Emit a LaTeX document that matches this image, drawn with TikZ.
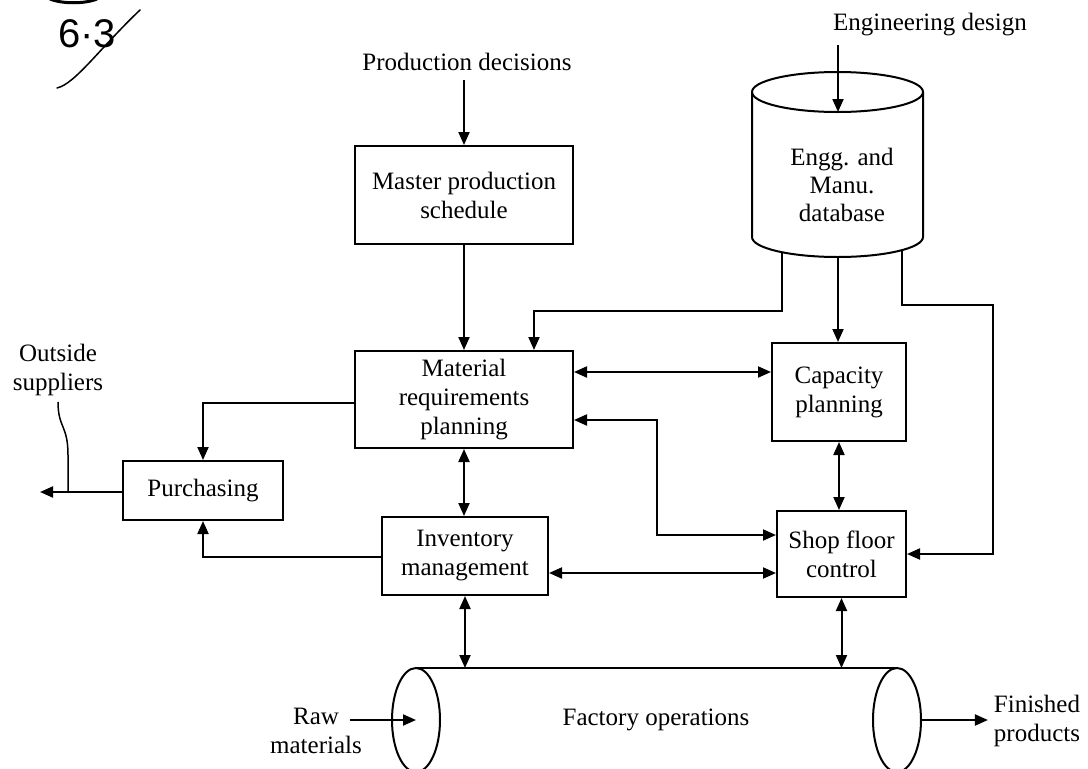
\documentclass[tikz,border=0pt]{standalone}
\usepackage{fontspec}
\setmainfont{Liberation Serif}
\newfontfamily\handfont{Liberation Sans}
\usetikzlibrary{arrows.meta,calc}
\begin{document}
\begin{tikzpicture}[x=1pt,y=-1pt,
  line width=2pt,
  txt/.style={font=\fontsize{25}{29}\selectfont, align=center, inner sep=0pt},
  blk/.style={txt, draw, line width=2pt},
  arr/.style={-{Triangle[length=13pt,width=11pt]}},
  darr/.style={{Triangle[length=13pt,width=11pt]}-{Triangle[length=13pt,width=11pt]}},
]
\useasboundingbox (0,0) rectangle (1088,769);
\clip (0,0) rectangle (1088,769);

% handwritten figure number
\draw[line width=3pt] (50,-1) .. controls (62,4) and (85,4) .. (97,-1);
\node[font=\handfont\fontsize{40}{40}\selectfont, inner sep=0pt] (hw) at (87,34) {6·3};
\draw[line width=1.5pt, line cap=round] (57,88) .. controls (75,84) and (100,48) .. (140,10);

% blocks
\node[blk, minimum width=218pt, minimum height=98pt] (mps) at (464,195) {Master production\\schedule};
\node[blk, minimum width=218pt, minimum height=97pt] (mrp) at (464,399.5) {Material\\requirements\\planning};
\node[blk, minimum width=160pt, minimum height=59pt] (pur) at (203,490.5) {Purchasing};
\node[blk, minimum width=166pt, minimum height=78pt] (inv) at (465,556) {Inventory\\management};
\node[blk, minimum width=134pt, minimum height=98pt] (cap) at (839,392) {Capacity\\planning};
\node[blk, minimum width=129pt, minimum height=86pt] (sfc) at (841.5,554) {Shop floor\\control};

% free labels
\node[txt] (pd) at (467,62) {Production decisions};
\node[txt] (ed) at (930,25) {Engineering design};
\node[txt] (os) at (58,370) {Outside\\suppliers};
\node[txt] (raw) at (316,731) {Raw\\materials};
\node[txt] (fin) at (1037,721) {Finished\\products};

% engineering and manufacturing database (cylinder)
\draw (752,92) -- (752,237) arc[start angle=180, end angle=0, x radius=85.5, y radius=20] -- (923,92);
\draw (837.5,92) ellipse [x radius=85.5, y radius=20];
\node[txt, font=\fontsize{25}{28}\selectfont] (dbt) at (842,185) {Engg. and\\Manu.\\database};
\coordinate (dbin) at (838,112);
\coordinate (dbl) at (782,252.2);
\coordinate (dbm) at (838,257);
\coordinate (dbr) at (902,250.1);

% factory operations (horizontal cylinder)
\draw (416,720) ellipse [x radius=24, y radius=52];
\draw (897,720) ellipse [x radius=24, y radius=52];
\draw (416,668) -- (897,668);
\draw (416,772) -- (897,772);
\node[txt] (fac) at (656,720) {Factory operations};
\coordinate (ftop) at (656,668);
\coordinate (fl) at (416,720);
\coordinate (fr) at (921,720);
\coordinate (rawout) at (350,720);
\coordinate (osarr) at (40,492);
\coordinate (osj) at (68,492);

% connectors
\draw[arr, shorten <=8pt] (pd.south -| mps.north) -- (mps.north);
\draw[arr, shorten <=8pt] (ed.south -| dbin) -- (dbin);
\draw[arr] (mps.south) -- (mrp.north);
\draw[arr] (dbl) -- ++(0,59) -| ([xshift=70pt]mrp.north);
\draw[arr] (dbm) -- (dbm |- cap.north);
\draw[arr] (dbr) -- ++(0,55) -| ([xshift=86pt]sfc.east) -- (sfc.east);
\draw[darr] (mrp.east |- 0,372) -- (cap.west |- 0,372);
\draw[darr] (mrp.east |- 0,420) -| (657,535) -- (sfc.west |- 0,535);
\draw[darr] (mrp.south) -- (mrp.south |- inv.north);
\draw[darr] (inv.east |- 0,573) -- (sfc.west |- 0,573);
\draw[darr] (cap.south) -- (cap.south |- sfc.north);
\draw[arr] (mrp.west |- 0,403) -| (pur.north);
\draw[arr] (inv.west |- 0,557) -| (pur.south);
\draw[arr] (pur.west |- osarr) -- (osarr);
\draw[line width=1.5pt] ([yshift=-5pt]os.south) .. controls (58,428) and (68,425) .. (68,455) -- (osj);
\draw[darr] (inv.south) -- (inv.south |- ftop);
\draw[darr] (sfc.south) -- (sfc.south |- ftop);
\draw[arr] (rawout) -- (fl);
\draw[arr] (fr) -- ([xshift=-5pt]fin.west |- fr);
\end{tikzpicture}
\end{document}
